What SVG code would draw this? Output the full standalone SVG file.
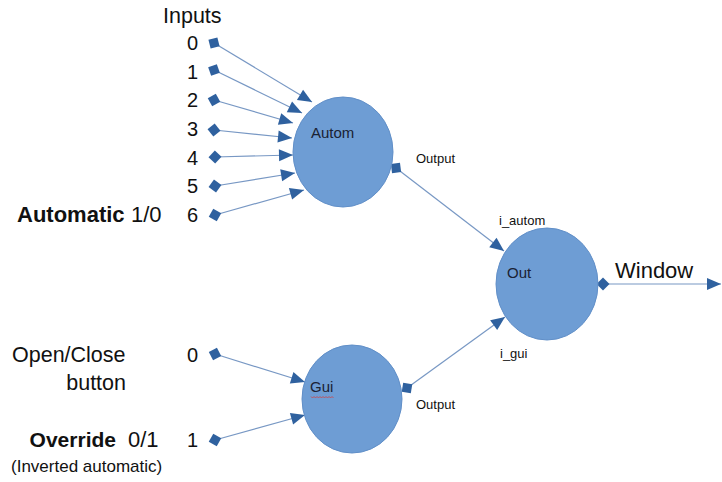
<svg xmlns="http://www.w3.org/2000/svg" width="722" height="482" viewBox="0 0 722 482">
  <style>
    .node { fill: #6e9dd4; stroke: #618fc8; stroke-width: 1; }
    .wire { fill: none; stroke: #7898c4; stroke-width: 1.2; marker-start: url(#pin); marker-end: url(#tip); }
    .big { font-family: "Liberation Sans", Arial, sans-serif; font-size: 20px; fill: #111; }
    .bold { font-weight: bold; }
    .small { font-family: "Liberation Sans", Arial, sans-serif; font-size: 13px; fill: #111; }
    .name { font-family: "Liberation Sans", Arial, sans-serif; font-size: 15px; fill: #1a2233; }
  </style>
  <defs>
    <!-- square pin at the start of a wire, turned with the wire -->
    <marker id="pin" markerUnits="userSpaceOnUse" markerWidth="16" markerHeight="16" refX="8" refY="8" orient="auto" viewBox="0 0 16 16">
      <path d="M8 1.5 L14.5 8 L8 14.5 L1.5 8 Z" fill="#2f619f"/>
    </marker>
    <!-- filled arrowhead at the end of a wire -->
    <marker id="tip" markerUnits="userSpaceOnUse" markerWidth="16" markerHeight="16" refX="15" refY="8" orient="auto" viewBox="0 0 16 16">
      <path d="M1 2 L15 8 L1 14 Z" fill="#2f619f"/>
    </marker>
  </defs>

  <rect width="722" height="482" fill="#ffffff"/>

  <!-- wires -->
  <g id="connectors">
    <line class="wire" x1="214" y1="43" x2="312" y2="102"/>
    <line class="wire" x1="214" y1="70" x2="302" y2="113"/>
    <line class="wire" x1="214" y1="100" x2="293" y2="123"/>
    <line class="wire" x1="214" y1="130" x2="292" y2="138"/>
    <line class="wire" x1="215" y1="157" x2="293" y2="155"/>
    <line class="wire" x1="215" y1="186" x2="295" y2="173"/>
    <line class="wire" x1="215" y1="215" x2="304" y2="190"/>
    <line class="wire" x1="215" y1="354" x2="305" y2="382"/>
    <line class="wire" x1="215" y1="440" x2="305" y2="415"/>
    <line class="wire" x1="396" y1="168" x2="504" y2="251"/>
    <line class="wire" x1="407" y1="388" x2="505" y2="317"/>
    <line class="wire" x1="603" y1="284" x2="721" y2="284"/>
  </g>

  <!-- Autom block -->
  <g id="autom">
    <ellipse class="node" cx="343" cy="152" rx="50" ry="55"/>
    <text class="name" x="311" y="138">Autom</text>
    <text class="small" x="416" y="163">Output</text>
  </g>

  <!-- Gui block -->
  <g id="gui">
    <ellipse class="node" cx="352" cy="399" rx="50" ry="54"/>
    <text class="name" x="310" y="392">Gui</text>
    <path d="M311 396.5 l1.5 1.5 l1.5 -1.5 l1.5 1.5 l1.5 -1.5 l1.5 1.5 l1.5 -1.5 l1.5 1.5 l1.5 -1.5 l1.5 1.5 l1.5 -1.5 l1.5 1.5 l1.5 -1.5 l1.5 1.5 l1.5 -1.5 l1.5 1.5" fill="none" stroke="#d04040" stroke-width="0.8"/>
    <text class="small" x="416" y="409">Output</text>
  </g>

  <!-- Out block -->
  <g id="out">
    <ellipse class="node" cx="547" cy="284" rx="51" ry="56"/>
    <text class="name" x="507" y="278">Out</text>
    <text class="small" x="499" y="225">i_autom</text>
    <text class="small" x="500" y="358">i_gui</text>
    <text class="big" x="615" y="278" style="font-size:22px">Window</text>
  </g>

  <!-- automatic inputs -->
  <g id="inputs">
    <text class="big" x="163" y="23" style="font-size:21.5px">Inputs</text>
    <text class="big" x="187" y="50">0</text>
    <text class="big" x="187" y="79">1</text>
    <text class="big" x="187" y="107">2</text>
    <text class="big" x="187" y="136">3</text>
    <text class="big" x="187" y="165">4</text>
    <text class="big" x="187" y="193">5</text>
    <text class="big" x="187" y="222">6</text>
    <text class="big bold" x="17" y="222" style="font-size:22px">Automatic</text>
    <text class="big" x="131" y="222" style="font-size:22px">1/0</text>
  </g>

  <!-- gui inputs -->
  <g id="gui-inputs">
    <text class="big" x="12" y="362" style="font-size:21.5px">Open/Close</text>
    <text class="big" x="126" y="390" text-anchor="end" style="font-size:21.5px">button</text>
    <text class="big" x="187" y="362">0</text>
    <text class="big bold" x="116" y="447" text-anchor="end" style="font-size:21px">Override</text>
    <text class="big" x="128" y="447" style="font-size:22px">0/1</text>
    <text class="big" x="187" y="447">1</text>
    <text class="big" x="11" y="472" style="font-size:17px">(Inverted automatic)</text>
  </g>
</svg>
